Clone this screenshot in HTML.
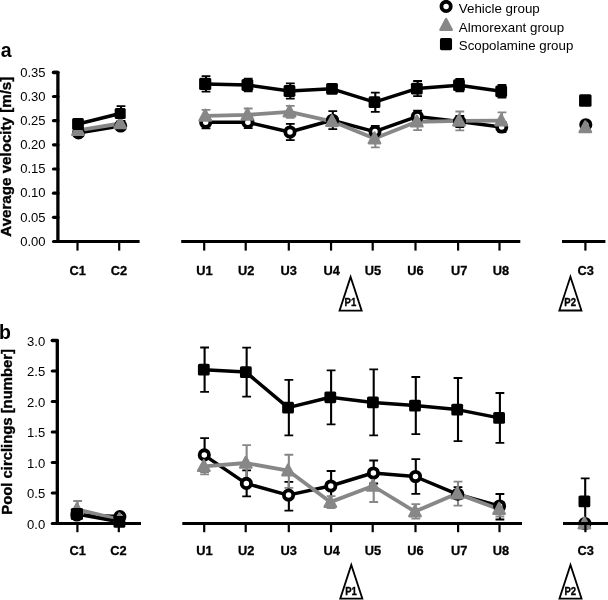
<!DOCTYPE html>
<html><head><meta charset="utf-8"><title>Figure</title>
<style>
html,body{margin:0;padding:0;background:#fff;}
body{width:608px;height:600px;overflow:hidden;font-family:"Liberation Sans",sans-serif;}
svg{display:block;filter:grayscale(1);}
</style></head><body>
<svg width="608" height="600" viewBox="0 0 608 600" font-family="Liberation Sans, sans-serif" fill="#000">
<rect width="608" height="600" fill="#fff"/>
<circle cx="446.10" cy="6.40" r="4.65" fill="#fff" stroke="#000" stroke-width="3.8"/>
<polygon points="446.10,19.10 440.40,29.80 451.80,29.80" fill="#878787" stroke="#878787" stroke-width="2.4" stroke-linejoin="round"/>
<rect x="439.95" y="38.05" width="12.1" height="12.1" rx="1.6" fill="#000"/>
<text x="458.8" y="12.5" font-size="12.4" textLength="81.0" lengthAdjust="spacingAndGlyphs">Vehicle group</text>
<text x="458.8" y="31.6" font-size="12.4" textLength="105.3" lengthAdjust="spacingAndGlyphs">Almorexant group</text>
<text x="458.8" y="50.3" font-size="12.4" textLength="114.5" lengthAdjust="spacingAndGlyphs">Scopolamine group</text>
<text x="0.7" y="57.2" font-size="19.5" font-weight="bold">a</text>
<text x="-0.9" y="338.5" font-size="19.5" font-weight="bold">b</text>
<text transform="translate(11,236.7) rotate(-90)" font-size="14.6" font-weight="bold" textLength="160" lengthAdjust="spacingAndGlyphs" stroke="#000" stroke-width="0.35">Average velocity [m/s]</text>
<text transform="translate(11.7,514.7) rotate(-90)" font-size="14.6" font-weight="bold" textLength="165.6" lengthAdjust="spacingAndGlyphs" stroke="#000" stroke-width="0.35">Pool circlings [number]</text>
<path d="M206.00,116.30V128.30" stroke="#000" stroke-width="2.1" fill="none"/>
<path d="M201.60,116.30h8.8M201.60,128.30h8.8" stroke="#000" stroke-width="1.8" fill="none"/>
<path d="M248.20,116.20V128.20" stroke="#000" stroke-width="2.1" fill="none"/>
<path d="M243.80,116.20h8.8M243.80,128.20h8.8" stroke="#000" stroke-width="1.8" fill="none"/>
<path d="M290.30,123.80V140.20" stroke="#000" stroke-width="2.1" fill="none"/>
<path d="M285.90,123.80h8.8M285.90,140.20h8.8" stroke="#000" stroke-width="1.8" fill="none"/>
<path d="M332.80,111.20V129.20" stroke="#000" stroke-width="2.1" fill="none"/>
<path d="M328.40,111.20h8.8M328.40,129.20h8.8" stroke="#000" stroke-width="1.8" fill="none"/>
<path d="M375.30,125.90V137.30" stroke="#000" stroke-width="2.1" fill="none"/>
<path d="M370.90,125.90h8.8M370.90,137.30h8.8" stroke="#000" stroke-width="1.8" fill="none"/>
<path d="M417.60,110.60V122.60" stroke="#000" stroke-width="2.1" fill="none"/>
<path d="M413.20,110.60h8.8M413.20,122.60h8.8" stroke="#000" stroke-width="1.8" fill="none"/>
<path d="M459.80,116.00V127.00" stroke="#000" stroke-width="2.1" fill="none"/>
<path d="M455.40,116.00h8.8M455.40,127.00h8.8" stroke="#000" stroke-width="1.8" fill="none"/>
<path d="M502.00,122.00V132.00" stroke="#000" stroke-width="2.1" fill="none"/>
<path d="M497.60,122.00h8.8M497.60,132.00h8.8" stroke="#000" stroke-width="1.8" fill="none"/>
<polyline points="78.00,132.90 120.20,126.00" fill="none" stroke="#000" stroke-width="3.5" stroke-linejoin="round"/>
<polyline points="205.20,122.30 247.40,122.20 289.50,132.00 332.00,120.20 374.50,131.60 416.80,116.60 459.00,121.50 501.20,127.00" fill="none" stroke="#000" stroke-width="3.5" stroke-linejoin="round"/>
<path d="M206.00,109.90V121.90" stroke="#878787" stroke-width="2.1" fill="none"/>
<path d="M201.60,109.90h8.8M201.60,121.90h8.8" stroke="#878787" stroke-width="1.8" fill="none"/>
<path d="M248.20,108.50V121.30" stroke="#878787" stroke-width="2.1" fill="none"/>
<path d="M243.80,108.50h8.8M243.80,121.30h8.8" stroke="#878787" stroke-width="1.8" fill="none"/>
<path d="M290.30,105.80V117.80" stroke="#878787" stroke-width="2.1" fill="none"/>
<path d="M285.90,105.80h8.8M285.90,117.80h8.8" stroke="#878787" stroke-width="1.8" fill="none"/>
<path d="M332.80,116.30V126.30" stroke="#878787" stroke-width="2.1" fill="none"/>
<path d="M328.40,116.30h8.8M328.40,126.30h8.8" stroke="#878787" stroke-width="1.8" fill="none"/>
<path d="M375.30,129.90V147.30" stroke="#878787" stroke-width="2.1" fill="none"/>
<path d="M370.90,129.90h8.8M370.90,147.30h8.8" stroke="#878787" stroke-width="1.8" fill="none"/>
<path d="M417.60,113.40V130.20" stroke="#878787" stroke-width="2.1" fill="none"/>
<path d="M413.20,113.40h8.8M413.20,130.20h8.8" stroke="#878787" stroke-width="1.8" fill="none"/>
<path d="M459.80,111.50V130.30" stroke="#878787" stroke-width="2.1" fill="none"/>
<path d="M455.40,111.50h8.8M455.40,130.30h8.8" stroke="#878787" stroke-width="1.8" fill="none"/>
<path d="M502.00,112.30V125.70" stroke="#878787" stroke-width="2.1" fill="none"/>
<path d="M497.60,112.30h8.8M497.60,125.70h8.8" stroke="#878787" stroke-width="1.8" fill="none"/>
<polyline points="78.00,130.30 120.20,123.50" fill="none" stroke="#878787" stroke-width="3.8" stroke-linejoin="round"/>
<polyline points="205.20,115.90 247.40,114.90 289.50,111.80 332.00,121.30 374.50,138.60 416.80,121.80 459.00,120.90 501.20,120.70" fill="none" stroke="#878787" stroke-width="3.8" stroke-linejoin="round"/>
<path d="M121.00,106.20V120.80" stroke="#000" stroke-width="2.1" fill="none"/>
<path d="M116.60,106.20h8.8M116.60,120.80h8.8" stroke="#000" stroke-width="1.8" fill="none"/>
<path d="M206.00,76.20V91.60" stroke="#000" stroke-width="2.1" fill="none"/>
<path d="M201.60,76.20h8.8M201.60,91.60h8.8" stroke="#000" stroke-width="1.8" fill="none"/>
<path d="M248.20,78.60V91.40" stroke="#000" stroke-width="2.1" fill="none"/>
<path d="M243.80,78.60h8.8M243.80,91.40h8.8" stroke="#000" stroke-width="1.8" fill="none"/>
<path d="M290.30,83.30V98.70" stroke="#000" stroke-width="2.1" fill="none"/>
<path d="M285.90,83.30h8.8M285.90,98.70h8.8" stroke="#000" stroke-width="1.8" fill="none"/>
<path d="M332.80,84.80V92.80" stroke="#000" stroke-width="2.1" fill="none"/>
<path d="M328.40,84.80h8.8M328.40,92.80h8.8" stroke="#000" stroke-width="1.8" fill="none"/>
<path d="M375.30,92.60V111.80" stroke="#000" stroke-width="2.1" fill="none"/>
<path d="M370.90,92.60h8.8M370.90,111.80h8.8" stroke="#000" stroke-width="1.8" fill="none"/>
<path d="M417.60,81.00V96.20" stroke="#000" stroke-width="2.1" fill="none"/>
<path d="M413.20,81.00h8.8M413.20,96.20h8.8" stroke="#000" stroke-width="1.8" fill="none"/>
<path d="M459.80,79.00V91.40" stroke="#000" stroke-width="2.1" fill="none"/>
<path d="M455.40,79.00h8.8M455.40,91.40h8.8" stroke="#000" stroke-width="1.8" fill="none"/>
<path d="M502.00,85.00V97.60" stroke="#000" stroke-width="2.1" fill="none"/>
<path d="M497.60,85.00h8.8M497.60,97.60h8.8" stroke="#000" stroke-width="1.8" fill="none"/>
<polyline points="78.00,124.00 120.20,113.50" fill="none" stroke="#000" stroke-width="3.5" stroke-linejoin="round"/>
<polyline points="205.20,83.90 247.40,85.00 289.50,91.00 332.00,88.80 374.50,102.20 416.80,88.60 459.00,85.20 501.20,91.30" fill="none" stroke="#000" stroke-width="3.5" stroke-linejoin="round"/>
<circle cx="78.50" cy="132.90" r="4.65" fill="#fff" stroke="#000" stroke-width="3.8"/>
<circle cx="120.70" cy="126.00" r="4.65" fill="#fff" stroke="#000" stroke-width="3.8"/>
<circle cx="205.70" cy="122.30" r="4.65" fill="#fff" stroke="#000" stroke-width="3.8"/>
<circle cx="247.90" cy="122.20" r="4.65" fill="#fff" stroke="#000" stroke-width="3.8"/>
<circle cx="290.00" cy="132.00" r="4.65" fill="#fff" stroke="#000" stroke-width="3.8"/>
<circle cx="332.50" cy="120.20" r="4.65" fill="#fff" stroke="#000" stroke-width="3.8"/>
<circle cx="375.00" cy="131.60" r="4.65" fill="#fff" stroke="#000" stroke-width="3.8"/>
<circle cx="417.30" cy="116.60" r="4.65" fill="#fff" stroke="#000" stroke-width="3.8"/>
<circle cx="459.50" cy="121.50" r="4.65" fill="#fff" stroke="#000" stroke-width="3.8"/>
<circle cx="501.70" cy="127.00" r="4.65" fill="#fff" stroke="#000" stroke-width="3.8"/>
<circle cx="585.80" cy="124.70" r="4.65" fill="#fff" stroke="#000" stroke-width="3.8"/>
<polygon points="78.00,124.20 72.30,134.90 83.70,134.90" fill="#878787" stroke="#878787" stroke-width="2.4" stroke-linejoin="round"/>
<polygon points="120.20,117.40 114.50,128.10 125.90,128.10" fill="#878787" stroke="#878787" stroke-width="2.4" stroke-linejoin="round"/>
<polygon points="205.20,109.80 199.50,120.50 210.90,120.50" fill="#878787" stroke="#878787" stroke-width="2.4" stroke-linejoin="round"/>
<polygon points="247.40,108.80 241.70,119.50 253.10,119.50" fill="#878787" stroke="#878787" stroke-width="2.4" stroke-linejoin="round"/>
<polygon points="289.50,105.70 283.80,116.40 295.20,116.40" fill="#878787" stroke="#878787" stroke-width="2.4" stroke-linejoin="round"/>
<polygon points="332.00,115.20 326.30,125.90 337.70,125.90" fill="#878787" stroke="#878787" stroke-width="2.4" stroke-linejoin="round"/>
<polygon points="374.50,132.50 368.80,143.20 380.20,143.20" fill="#878787" stroke="#878787" stroke-width="2.4" stroke-linejoin="round"/>
<polygon points="416.80,115.70 411.10,126.40 422.50,126.40" fill="#878787" stroke="#878787" stroke-width="2.4" stroke-linejoin="round"/>
<polygon points="459.00,114.80 453.30,125.50 464.70,125.50" fill="#878787" stroke="#878787" stroke-width="2.4" stroke-linejoin="round"/>
<polygon points="501.20,114.60 495.50,125.30 506.90,125.30" fill="#878787" stroke="#878787" stroke-width="2.4" stroke-linejoin="round"/>
<polygon points="585.30,121.40 579.60,132.10 591.00,132.10" fill="#878787" stroke="#878787" stroke-width="2.4" stroke-linejoin="round"/>
<rect x="72.10" y="118.10" width="11.8" height="11.8" rx="1.6" fill="#000"/>
<rect x="114.70" y="108.00" width="11.0" height="11.0" rx="1.6" fill="#000"/>
<rect x="199.10" y="77.80" width="12.2" height="12.2" rx="1.6" fill="#000"/>
<rect x="241.50" y="79.10" width="11.8" height="11.8" rx="1.6" fill="#000"/>
<rect x="283.60" y="85.10" width="11.8" height="11.8" rx="1.6" fill="#000"/>
<rect x="326.10" y="82.90" width="11.8" height="11.8" rx="1.6" fill="#000"/>
<rect x="368.60" y="96.30" width="11.8" height="11.8" rx="1.6" fill="#000"/>
<rect x="410.90" y="82.70" width="11.8" height="11.8" rx="1.6" fill="#000"/>
<rect x="453.10" y="79.30" width="11.8" height="11.8" rx="1.6" fill="#000"/>
<rect x="495.30" y="85.40" width="11.8" height="11.8" rx="1.6" fill="#000"/>
<rect x="579.05" y="94.25" width="12.5" height="12.5" rx="1.6" fill="#000"/>
<path d="M77.70,512.00V518.00" stroke="#000" stroke-width="2.1" fill="none"/>
<path d="M73.30,512.00h8.8M73.30,518.00h8.8" stroke="#000" stroke-width="1.8" fill="none"/>
<path d="M120.20,513.60V519.60" stroke="#000" stroke-width="2.1" fill="none"/>
<path d="M115.80,513.60h8.8M115.80,519.60h8.8" stroke="#000" stroke-width="1.8" fill="none"/>
<path d="M204.60,438.10V471.70" stroke="#000" stroke-width="2.1" fill="none"/>
<path d="M200.20,438.10h8.8M200.20,471.70h8.8" stroke="#000" stroke-width="1.8" fill="none"/>
<path d="M246.65,470.40V496.40" stroke="#000" stroke-width="2.1" fill="none"/>
<path d="M242.25,470.40h8.8M242.25,496.40h8.8" stroke="#000" stroke-width="1.8" fill="none"/>
<path d="M288.85,481.90V510.60" stroke="#000" stroke-width="2.1" fill="none"/>
<path d="M284.45,481.90h8.8M284.45,510.60h8.8" stroke="#000" stroke-width="1.8" fill="none"/>
<path d="M331.10,471.00V501.00" stroke="#000" stroke-width="2.1" fill="none"/>
<path d="M326.70,471.00h8.8M326.70,501.00h8.8" stroke="#000" stroke-width="1.8" fill="none"/>
<path d="M373.70,460.50V483.50" stroke="#000" stroke-width="2.1" fill="none"/>
<path d="M369.30,460.50h8.8M369.30,483.50h8.8" stroke="#000" stroke-width="1.8" fill="none"/>
<path d="M415.80,459.10V493.90" stroke="#000" stroke-width="2.1" fill="none"/>
<path d="M411.40,459.10h8.8M411.40,493.90h8.8" stroke="#000" stroke-width="1.8" fill="none"/>
<path d="M458.00,487.20V499.20" stroke="#000" stroke-width="2.1" fill="none"/>
<path d="M453.60,487.20h8.8M453.60,499.20h8.8" stroke="#000" stroke-width="1.8" fill="none"/>
<path d="M499.90,494.00V519.50" stroke="#000" stroke-width="2.1" fill="none"/>
<path d="M495.50,494.00h8.8M495.50,519.50h8.8" stroke="#000" stroke-width="1.8" fill="none"/>
<polyline points="76.90,515.00 119.40,516.60" fill="none" stroke="#000" stroke-width="3.5" stroke-linejoin="round"/>
<polyline points="203.80,454.90 245.85,483.40 288.05,495.10 330.30,486.00 372.90,473.00 415.00,476.50 457.20,494.20 499.10,506.00" fill="none" stroke="#000" stroke-width="3.5" stroke-linejoin="round"/>
<path d="M77.70,501.00V517.60" stroke="#878787" stroke-width="2.1" fill="none"/>
<path d="M73.30,501.00h8.8M73.30,517.60h8.8" stroke="#878787" stroke-width="1.8" fill="none"/>
<path d="M120.20,516.50V522.50" stroke="#878787" stroke-width="2.1" fill="none"/>
<path d="M115.80,516.50h8.8M115.80,522.50h8.8" stroke="#878787" stroke-width="1.8" fill="none"/>
<path d="M204.60,458.30V474.30" stroke="#878787" stroke-width="2.1" fill="none"/>
<path d="M200.20,458.30h8.8M200.20,474.30h8.8" stroke="#878787" stroke-width="1.8" fill="none"/>
<path d="M246.65,445.20V480.80" stroke="#878787" stroke-width="2.1" fill="none"/>
<path d="M242.25,445.20h8.8M242.25,480.80h8.8" stroke="#878787" stroke-width="1.8" fill="none"/>
<path d="M288.85,454.75V487.90" stroke="#878787" stroke-width="2.1" fill="none"/>
<path d="M284.45,454.75h8.8M284.45,487.90h8.8" stroke="#878787" stroke-width="1.8" fill="none"/>
<path d="M331.10,496.10V508.10" stroke="#878787" stroke-width="2.1" fill="none"/>
<path d="M326.70,496.10h8.8M326.70,508.10h8.8" stroke="#878787" stroke-width="1.8" fill="none"/>
<path d="M373.70,470.00V502.00" stroke="#878787" stroke-width="2.1" fill="none"/>
<path d="M369.30,470.00h8.8M369.30,502.00h8.8" stroke="#878787" stroke-width="1.8" fill="none"/>
<path d="M415.80,504.20V518.60" stroke="#878787" stroke-width="2.1" fill="none"/>
<path d="M411.40,504.20h8.8M411.40,518.60h8.8" stroke="#878787" stroke-width="1.8" fill="none"/>
<path d="M458.00,481.60V505.60" stroke="#878787" stroke-width="2.1" fill="none"/>
<path d="M453.60,481.60h8.8M453.60,505.60h8.8" stroke="#878787" stroke-width="1.8" fill="none"/>
<path d="M499.90,501.90V516.50" stroke="#878787" stroke-width="2.1" fill="none"/>
<path d="M495.50,501.90h8.8M495.50,516.50h8.8" stroke="#878787" stroke-width="1.8" fill="none"/>
<polyline points="76.90,509.30 119.40,519.50" fill="none" stroke="#878787" stroke-width="3.8" stroke-linejoin="round"/>
<polyline points="203.80,466.30 245.85,463.00 288.05,470.60 330.30,502.10 372.90,486.00 415.00,511.60 457.20,493.60 499.10,509.20" fill="none" stroke="#878787" stroke-width="3.8" stroke-linejoin="round"/>
<path d="M204.60,347.50V391.90" stroke="#000" stroke-width="2.1" fill="none"/>
<path d="M200.20,347.50h8.8M200.20,391.90h8.8" stroke="#000" stroke-width="1.8" fill="none"/>
<path d="M246.65,347.60V396.60" stroke="#000" stroke-width="2.1" fill="none"/>
<path d="M242.25,347.60h8.8M242.25,396.60h8.8" stroke="#000" stroke-width="1.8" fill="none"/>
<path d="M288.85,379.80V435.40" stroke="#000" stroke-width="2.1" fill="none"/>
<path d="M284.45,379.80h8.8M284.45,435.40h8.8" stroke="#000" stroke-width="1.8" fill="none"/>
<path d="M331.10,370.30V424.30" stroke="#000" stroke-width="2.1" fill="none"/>
<path d="M326.70,370.30h8.8M326.70,424.30h8.8" stroke="#000" stroke-width="1.8" fill="none"/>
<path d="M373.70,369.40V435.40" stroke="#000" stroke-width="2.1" fill="none"/>
<path d="M369.30,369.40h8.8M369.30,435.40h8.8" stroke="#000" stroke-width="1.8" fill="none"/>
<path d="M415.80,377.00V434.20" stroke="#000" stroke-width="2.1" fill="none"/>
<path d="M411.40,377.00h8.8M411.40,434.20h8.8" stroke="#000" stroke-width="1.8" fill="none"/>
<path d="M458.00,378.00V441.20" stroke="#000" stroke-width="2.1" fill="none"/>
<path d="M453.60,378.00h8.8M453.60,441.20h8.8" stroke="#000" stroke-width="1.8" fill="none"/>
<path d="M499.90,393.00V442.80" stroke="#000" stroke-width="2.1" fill="none"/>
<path d="M495.50,393.00h8.8M495.50,442.80h8.8" stroke="#000" stroke-width="1.8" fill="none"/>
<path d="M585.20,478.40V524.40" stroke="#000" stroke-width="2.1" fill="none"/>
<path d="M580.80,478.40h8.8M580.80,524.40h8.8" stroke="#000" stroke-width="1.8" fill="none"/>
<polyline points="76.90,514.00 119.40,521.90" fill="none" stroke="#000" stroke-width="3.5" stroke-linejoin="round"/>
<polyline points="203.80,369.70 245.85,372.10 288.05,407.60 330.30,397.30 372.90,402.40 415.00,405.60 457.20,409.60 499.10,417.90" fill="none" stroke="#000" stroke-width="3.5" stroke-linejoin="round"/>
<circle cx="76.90" cy="515.00" r="4.65" fill="#fff" stroke="#000" stroke-width="3.8"/>
<circle cx="119.90" cy="516.60" r="4.65" fill="#fff" stroke="#000" stroke-width="3.8"/>
<circle cx="204.30" cy="454.90" r="4.65" fill="#fff" stroke="#000" stroke-width="3.8"/>
<circle cx="246.35" cy="483.40" r="4.65" fill="#fff" stroke="#000" stroke-width="3.8"/>
<circle cx="288.55" cy="495.10" r="4.65" fill="#fff" stroke="#000" stroke-width="3.8"/>
<circle cx="330.80" cy="486.00" r="4.65" fill="#fff" stroke="#000" stroke-width="3.8"/>
<circle cx="373.40" cy="473.00" r="4.65" fill="#fff" stroke="#000" stroke-width="3.8"/>
<circle cx="415.50" cy="476.50" r="4.65" fill="#fff" stroke="#000" stroke-width="3.8"/>
<circle cx="457.70" cy="494.20" r="4.65" fill="#fff" stroke="#000" stroke-width="3.8"/>
<circle cx="499.60" cy="506.00" r="4.65" fill="#fff" stroke="#000" stroke-width="3.8"/>
<circle cx="584.90" cy="523.50" r="4.65" fill="#fff" stroke="#000" stroke-width="3.8"/>
<polygon points="76.90,503.20 71.20,513.90 82.60,513.90" fill="#878787" stroke="#878787" stroke-width="2.4" stroke-linejoin="round"/>
<polygon points="119.40,513.40 113.70,524.10 125.10,524.10" fill="#878787" stroke="#878787" stroke-width="2.4" stroke-linejoin="round"/>
<polygon points="203.80,460.20 198.10,470.90 209.50,470.90" fill="#878787" stroke="#878787" stroke-width="2.4" stroke-linejoin="round"/>
<polygon points="245.85,456.90 240.15,467.60 251.55,467.60" fill="#878787" stroke="#878787" stroke-width="2.4" stroke-linejoin="round"/>
<polygon points="288.05,464.50 282.35,475.20 293.75,475.20" fill="#878787" stroke="#878787" stroke-width="2.4" stroke-linejoin="round"/>
<polygon points="330.30,496.00 324.60,506.70 336.00,506.70" fill="#878787" stroke="#878787" stroke-width="2.4" stroke-linejoin="round"/>
<polygon points="372.90,479.90 367.20,490.60 378.60,490.60" fill="#878787" stroke="#878787" stroke-width="2.4" stroke-linejoin="round"/>
<polygon points="415.00,505.50 409.30,516.20 420.70,516.20" fill="#878787" stroke="#878787" stroke-width="2.4" stroke-linejoin="round"/>
<polygon points="457.20,487.50 451.50,498.20 462.90,498.20" fill="#878787" stroke="#878787" stroke-width="2.4" stroke-linejoin="round"/>
<polygon points="499.10,503.10 493.40,513.80 504.80,513.80" fill="#878787" stroke="#878787" stroke-width="2.4" stroke-linejoin="round"/>
<polygon points="584.40,517.50 578.70,528.20 590.10,528.20" fill="#878787" stroke="#878787" stroke-width="2.4" stroke-linejoin="round"/>
<rect x="70.80" y="507.90" width="12.2" height="12.2" rx="1.6" fill="#000"/>
<rect x="113.50" y="516.00" width="11.8" height="11.8" rx="1.6" fill="#000"/>
<rect x="197.90" y="363.80" width="11.8" height="11.8" rx="1.6" fill="#000"/>
<rect x="239.95" y="366.20" width="11.8" height="11.8" rx="1.6" fill="#000"/>
<rect x="282.15" y="401.70" width="11.8" height="11.8" rx="1.6" fill="#000"/>
<rect x="324.40" y="391.40" width="11.8" height="11.8" rx="1.6" fill="#000"/>
<rect x="367.00" y="396.50" width="11.8" height="11.8" rx="1.6" fill="#000"/>
<rect x="409.10" y="399.70" width="11.8" height="11.8" rx="1.6" fill="#000"/>
<rect x="451.30" y="403.70" width="11.8" height="11.8" rx="1.6" fill="#000"/>
<rect x="493.20" y="412.00" width="11.8" height="11.8" rx="1.6" fill="#000"/>
<rect x="578.50" y="495.50" width="11.8" height="11.8" rx="1.6" fill="#000"/>
<path d="M53.50,72.50H57.9V241.30" stroke="#000" stroke-width="3.3" stroke-linejoin="round" stroke-linecap="round" fill="none"/>
<path d="M53.50,241.50H57.9" stroke="#000" stroke-width="3.2" stroke-linecap="round" fill="none"/>
<text x="45.60" y="245.80" text-anchor="end" font-size="12.6" textLength="25.4" lengthAdjust="spacingAndGlyphs">0.00</text>
<path d="M53.50,217.33H57.9" stroke="#000" stroke-width="3.2" stroke-linecap="round" fill="none"/>
<text x="45.60" y="221.63" text-anchor="end" font-size="12.6" textLength="25.4" lengthAdjust="spacingAndGlyphs">0.05</text>
<path d="M53.50,193.16H57.9" stroke="#000" stroke-width="3.2" stroke-linecap="round" fill="none"/>
<text x="45.60" y="197.46" text-anchor="end" font-size="12.6" textLength="25.4" lengthAdjust="spacingAndGlyphs">0.10</text>
<path d="M53.50,168.99H57.9" stroke="#000" stroke-width="3.2" stroke-linecap="round" fill="none"/>
<text x="45.60" y="173.29" text-anchor="end" font-size="12.6" textLength="25.4" lengthAdjust="spacingAndGlyphs">0.15</text>
<path d="M53.50,144.82H57.9" stroke="#000" stroke-width="3.2" stroke-linecap="round" fill="none"/>
<text x="45.60" y="149.12" text-anchor="end" font-size="12.6" textLength="25.4" lengthAdjust="spacingAndGlyphs">0.20</text>
<path d="M53.50,120.65H57.9" stroke="#000" stroke-width="3.2" stroke-linecap="round" fill="none"/>
<text x="45.60" y="124.95" text-anchor="end" font-size="12.6" textLength="25.4" lengthAdjust="spacingAndGlyphs">0.25</text>
<path d="M53.50,96.48H57.9" stroke="#000" stroke-width="3.2" stroke-linecap="round" fill="none"/>
<text x="45.60" y="100.78" text-anchor="end" font-size="12.6" textLength="25.4" lengthAdjust="spacingAndGlyphs">0.30</text>
<path d="M53.50,72.31H57.9" stroke="#000" stroke-width="3.2" stroke-linecap="round" fill="none"/>
<text x="45.60" y="76.61" text-anchor="end" font-size="12.6" textLength="25.4" lengthAdjust="spacingAndGlyphs">0.35</text>
<path d="M56.4,241.5H139.6" stroke="#000" stroke-width="3.1" fill="none"/>
<path d="M181.2,241.5H520.3" stroke="#000" stroke-width="3.1" fill="none"/>
<path d="M562,241.5H605.4" stroke="#000" stroke-width="3.1" fill="none"/>
<path d="M77.50,241.5V250.60" stroke="#000" stroke-width="2.2" fill="none"/>
<text x="77.70" y="275.1" text-anchor="middle" font-size="13.6" font-weight="bold" textLength="16.4" lengthAdjust="spacingAndGlyphs" stroke="#000" stroke-width="0.3">C1</text>
<path d="M119.20,241.5V250.60" stroke="#000" stroke-width="2.2" fill="none"/>
<text x="118.90" y="275.1" text-anchor="middle" font-size="13.6" font-weight="bold" textLength="16.4" lengthAdjust="spacingAndGlyphs" stroke="#000" stroke-width="0.3">C2</text>
<path d="M204.20,241.5V250.60" stroke="#000" stroke-width="2.2" fill="none"/>
<text x="204.40" y="275.1" text-anchor="middle" font-size="13.6" font-weight="bold" textLength="16.4" lengthAdjust="spacingAndGlyphs" stroke="#000" stroke-width="0.3">U1</text>
<path d="M245.70,241.5V250.60" stroke="#000" stroke-width="2.2" fill="none"/>
<text x="246.10" y="275.1" text-anchor="middle" font-size="13.6" font-weight="bold" textLength="16.4" lengthAdjust="spacingAndGlyphs" stroke="#000" stroke-width="0.3">U2</text>
<path d="M288.80,241.5V250.60" stroke="#000" stroke-width="2.2" fill="none"/>
<text x="288.80" y="275.1" text-anchor="middle" font-size="13.6" font-weight="bold" textLength="16.4" lengthAdjust="spacingAndGlyphs" stroke="#000" stroke-width="0.3">U3</text>
<path d="M331.05,241.5V250.60" stroke="#000" stroke-width="2.2" fill="none"/>
<text x="331.80" y="275.1" text-anchor="middle" font-size="13.6" font-weight="bold" textLength="16.4" lengthAdjust="spacingAndGlyphs" stroke="#000" stroke-width="0.3">U4</text>
<path d="M372.70,241.5V250.60" stroke="#000" stroke-width="2.2" fill="none"/>
<text x="373.00" y="275.1" text-anchor="middle" font-size="13.6" font-weight="bold" textLength="16.4" lengthAdjust="spacingAndGlyphs" stroke="#000" stroke-width="0.3">U5</text>
<path d="M415.50,241.5V250.60" stroke="#000" stroke-width="2.2" fill="none"/>
<text x="415.50" y="275.1" text-anchor="middle" font-size="13.6" font-weight="bold" textLength="16.4" lengthAdjust="spacingAndGlyphs" stroke="#000" stroke-width="0.3">U6</text>
<path d="M458.10,241.5V250.60" stroke="#000" stroke-width="2.2" fill="none"/>
<text x="459.20" y="275.1" text-anchor="middle" font-size="13.6" font-weight="bold" textLength="16.4" lengthAdjust="spacingAndGlyphs" stroke="#000" stroke-width="0.3">U7</text>
<path d="M499.50,241.5V250.60" stroke="#000" stroke-width="2.2" fill="none"/>
<text x="501.00" y="275.1" text-anchor="middle" font-size="13.6" font-weight="bold" textLength="16.4" lengthAdjust="spacingAndGlyphs" stroke="#000" stroke-width="0.3">U8</text>
<path d="M585.40,241.5V250.60" stroke="#000" stroke-width="2.2" fill="none"/>
<text x="585.60" y="275.1" text-anchor="middle" font-size="13.6" font-weight="bold" textLength="16.4" lengthAdjust="spacingAndGlyphs" stroke="#000" stroke-width="0.3">C3</text>
<path d="M52.30,340.50H57.3V523.30" stroke="#000" stroke-width="3.3" stroke-linejoin="round" stroke-linecap="round" fill="none"/>
<path d="M52.30,523.50H57.3" stroke="#000" stroke-width="3.2" stroke-linecap="round" fill="none"/>
<text x="45.20" y="528.80" text-anchor="end" font-size="12.6" textLength="18.2" lengthAdjust="spacingAndGlyphs">0.0</text>
<path d="M52.30,493.00H57.3" stroke="#000" stroke-width="3.2" stroke-linecap="round" fill="none"/>
<text x="45.20" y="498.30" text-anchor="end" font-size="12.6" textLength="18.2" lengthAdjust="spacingAndGlyphs">0.5</text>
<path d="M52.30,462.50H57.3" stroke="#000" stroke-width="3.2" stroke-linecap="round" fill="none"/>
<text x="45.20" y="467.80" text-anchor="end" font-size="12.6" textLength="18.2" lengthAdjust="spacingAndGlyphs">1.0</text>
<path d="M52.30,432.00H57.3" stroke="#000" stroke-width="3.2" stroke-linecap="round" fill="none"/>
<text x="45.20" y="437.30" text-anchor="end" font-size="12.6" textLength="18.2" lengthAdjust="spacingAndGlyphs">1.5</text>
<path d="M52.30,401.50H57.3" stroke="#000" stroke-width="3.2" stroke-linecap="round" fill="none"/>
<text x="45.20" y="406.80" text-anchor="end" font-size="12.6" textLength="18.2" lengthAdjust="spacingAndGlyphs">2.0</text>
<path d="M52.30,371.00H57.3" stroke="#000" stroke-width="3.2" stroke-linecap="round" fill="none"/>
<text x="45.20" y="376.30" text-anchor="end" font-size="12.6" textLength="18.2" lengthAdjust="spacingAndGlyphs">2.5</text>
<path d="M52.30,340.50H57.3" stroke="#000" stroke-width="3.2" stroke-linecap="round" fill="none"/>
<text x="45.20" y="345.80" text-anchor="end" font-size="12.6" textLength="18.2" lengthAdjust="spacingAndGlyphs">3.0</text>
<path d="M55.8,523.5H141" stroke="#000" stroke-width="3.1" fill="none"/>
<path d="M182.3,523.5H522" stroke="#000" stroke-width="3.1" fill="none"/>
<path d="M563,523.5H609" stroke="#000" stroke-width="3.1" fill="none"/>
<path d="M77.40,523.5V532.20" stroke="#000" stroke-width="2.2" fill="none"/>
<text x="77.60" y="555.1" text-anchor="middle" font-size="13.6" font-weight="bold" textLength="16.4" lengthAdjust="spacingAndGlyphs" stroke="#000" stroke-width="0.3">C1</text>
<path d="M118.80,523.5V532.20" stroke="#000" stroke-width="2.2" fill="none"/>
<text x="118.50" y="555.1" text-anchor="middle" font-size="13.6" font-weight="bold" textLength="16.4" lengthAdjust="spacingAndGlyphs" stroke="#000" stroke-width="0.3">C2</text>
<path d="M204.20,523.5V532.20" stroke="#000" stroke-width="2.2" fill="none"/>
<text x="204.40" y="555.1" text-anchor="middle" font-size="13.6" font-weight="bold" textLength="16.4" lengthAdjust="spacingAndGlyphs" stroke="#000" stroke-width="0.3">U1</text>
<path d="M245.70,523.5V532.20" stroke="#000" stroke-width="2.2" fill="none"/>
<text x="246.10" y="555.1" text-anchor="middle" font-size="13.6" font-weight="bold" textLength="16.4" lengthAdjust="spacingAndGlyphs" stroke="#000" stroke-width="0.3">U2</text>
<path d="M288.80,523.5V532.20" stroke="#000" stroke-width="2.2" fill="none"/>
<text x="288.80" y="555.1" text-anchor="middle" font-size="13.6" font-weight="bold" textLength="16.4" lengthAdjust="spacingAndGlyphs" stroke="#000" stroke-width="0.3">U3</text>
<path d="M331.05,523.5V532.20" stroke="#000" stroke-width="2.2" fill="none"/>
<text x="331.80" y="555.1" text-anchor="middle" font-size="13.6" font-weight="bold" textLength="16.4" lengthAdjust="spacingAndGlyphs" stroke="#000" stroke-width="0.3">U4</text>
<path d="M372.70,523.5V532.20" stroke="#000" stroke-width="2.2" fill="none"/>
<text x="373.00" y="555.1" text-anchor="middle" font-size="13.6" font-weight="bold" textLength="16.4" lengthAdjust="spacingAndGlyphs" stroke="#000" stroke-width="0.3">U5</text>
<path d="M415.50,523.5V532.20" stroke="#000" stroke-width="2.2" fill="none"/>
<text x="415.50" y="555.1" text-anchor="middle" font-size="13.6" font-weight="bold" textLength="16.4" lengthAdjust="spacingAndGlyphs" stroke="#000" stroke-width="0.3">U6</text>
<path d="M458.10,523.5V532.20" stroke="#000" stroke-width="2.2" fill="none"/>
<text x="459.20" y="555.1" text-anchor="middle" font-size="13.6" font-weight="bold" textLength="16.4" lengthAdjust="spacingAndGlyphs" stroke="#000" stroke-width="0.3">U7</text>
<path d="M499.50,523.5V532.20" stroke="#000" stroke-width="2.2" fill="none"/>
<text x="501.00" y="555.1" text-anchor="middle" font-size="13.6" font-weight="bold" textLength="16.4" lengthAdjust="spacingAndGlyphs" stroke="#000" stroke-width="0.3">U8</text>
<path d="M585.40,523.5V532.20" stroke="#000" stroke-width="2.2" fill="none"/>
<text x="585.60" y="555.1" text-anchor="middle" font-size="13.6" font-weight="bold" textLength="16.4" lengthAdjust="spacingAndGlyphs" stroke="#000" stroke-width="0.3">C3</text>
<polygon points="350.60,276.89 339.54,310.70 361.66,310.70" fill="none" stroke="#000" stroke-width="1.8" stroke-linejoin="miter" stroke-miterlimit="10"/>
<text x="350.40" y="306.30" text-anchor="middle" font-size="10.8" font-weight="bold" textLength="11.7" lengthAdjust="spacingAndGlyphs" stroke="#000" stroke-width="0.35">P1</text>
<polygon points="570.40,276.69 559.34,310.50 581.46,310.50" fill="none" stroke="#000" stroke-width="1.8" stroke-linejoin="miter" stroke-miterlimit="10"/>
<text x="570.20" y="306.10" text-anchor="middle" font-size="10.8" font-weight="bold" textLength="11.7" lengthAdjust="spacingAndGlyphs" stroke="#000" stroke-width="0.35">P2</text>
<polygon points="351.30,564.89 340.24,598.70 362.36,598.70" fill="none" stroke="#000" stroke-width="1.8" stroke-linejoin="miter" stroke-miterlimit="10"/>
<text x="351.10" y="594.70" text-anchor="middle" font-size="10.8" font-weight="bold" textLength="11.7" lengthAdjust="spacingAndGlyphs" stroke="#000" stroke-width="0.35">P1</text>
<polygon points="570.50,564.89 559.44,598.70 581.56,598.70" fill="none" stroke="#000" stroke-width="1.8" stroke-linejoin="miter" stroke-miterlimit="10"/>
<text x="570.30" y="594.70" text-anchor="middle" font-size="10.8" font-weight="bold" textLength="11.7" lengthAdjust="spacingAndGlyphs" stroke="#000" stroke-width="0.35">P2</text>
</svg>
</body></html>
